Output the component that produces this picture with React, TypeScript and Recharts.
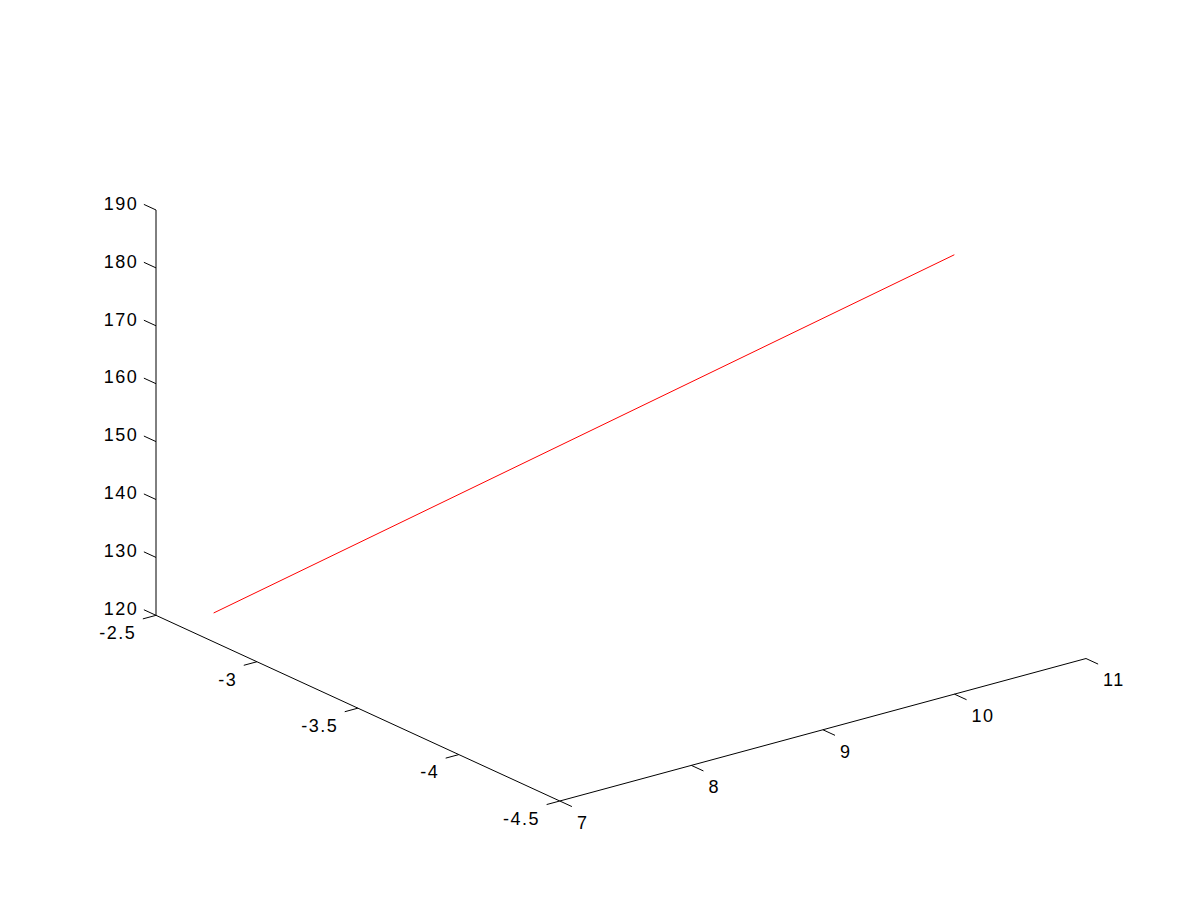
import { ComposedChart, Line, XAxis, YAxis } from "recharts";

// axis limits and ticks of the 3-D box
const xLim = [7, 11];
const yLim = [-4.5, -2.5];
const zLim = [120, 190];
const xTicks = [7, 8, 9, 10, 11];
const yTicks = [-2.5, -3, -3.5, -4, -4.5];
const zTicks = [120, 130, 140, 150, 160, 170, 180, 190];

// the plotted 3-D line
const lineX = [7.3, 10.92];
const lineY = [-2.59, -3.9];
const lineZ = [120, 180.6];

const W = 1200;
const H = 900;
// default axes position, normalized [left bottom width height]
const AX_POS = [0.13, 0.11, 0.775, 0.815];
// default 3-D view
const AZ = (-37.5 * Math.PI) / 180;
const EL = (30 * Math.PI) / 180;
const TICK_LEN = 0.03;
const FONT = '"Liberation Sans", Arial, Helvetica, sans-serif';
const SPACING = 1.5;

const norm = (v: number, lim: number[]) => (v - lim[0]) / (lim[1] - lim[0]);

function project(x: number, y: number, z: number) {
  const a = norm(x, xLim);
  const b = norm(y, yLim);
  const c = norm(z, zLim);
  const u = a * Math.cos(AZ) + b * Math.sin(AZ);
  const depth = -a * Math.sin(AZ) + b * Math.cos(AZ);
  const v = c * Math.cos(EL) + depth * Math.sin(EL);
  return { u, v };
}

// offset a point in normalized box units before projecting
function projectOff(x: number, y: number, z: number, da: number, db: number) {
  return project(
    x + da * (xLim[1] - xLim[0]),
    y + db * (yLim[1] - yLim[0]),
    z
  );
}

// fit the projected box into the axes position (stretch to fill)
const corners = [0, 1].flatMap((i) =>
  [0, 1].flatMap((j) =>
    [0, 1].map((k) => project(xLim[i], yLim[j], zLim[k]))
  )
);
const uMin = Math.min(...corners.map((p) => p.u));
const uMax = Math.max(...corners.map((p) => p.u));
const vMin = Math.min(...corners.map((p) => p.v));
const vMax = Math.max(...corners.map((p) => p.v));
const sx = (AX_POS[2] * W) / (uMax - uMin);
const sy = (AX_POS[3] * H) / (vMax - vMin);
const uDomain = [uMin - (AX_POS[0] * W) / sx, uMax + ((1 - AX_POS[0] - AX_POS[2]) * W) / sx];
const vDomain = [vMin - (AX_POS[1] * H) / sy, vMax + ((1 - AX_POS[1] - AX_POS[3]) * H) / sy];

type Seg = { u: number; v: number }[];
type Lbl = { u: number; v: number; text: string; anchor: string; dx: number; dy: number };

const redLine: Seg = lineX.map((x, i) => project(x, lineY[i], lineZ[i]));

const axisSegs: Seg[] = [
  [project(xLim[0], yLim[1], zLim[0]), project(xLim[0], yLim[1], zLim[1])],
  [project(xLim[0], yLim[1], zLim[0]), project(xLim[0], yLim[0], zLim[0])],
  [project(xLim[0], yLim[0], zLim[0]), project(xLim[1], yLim[0], zLim[0])],
];

const tickSegs: Seg[] = [
  ...zTicks.map((z) => [project(xLim[0], yLim[1], z), projectOff(xLim[0], yLim[1], z, 0, TICK_LEN)]),
  ...yTicks.map((y) => [project(xLim[0], y, zLim[0]), projectOff(xLim[0], y, zLim[0], -0.025, 0)]),
  ...xTicks.map((x) => [project(x, yLim[0], zLim[0]), projectOff(x, yLim[0], zLim[0], 0, -TICK_LEN)]),
];

const labels: Lbl[] = [
  ...zTicks.map((z) => ({
    ...projectOff(xLim[0], yLim[1], z, 0, TICK_LEN),
    text: String(z), anchor: "end", dx: -7 + SPACING, dy: -1,
  })),
  ...yTicks.map((y) => ({
    ...projectOff(xLim[0], y, zLim[0], -0.025, 0),
    text: String(y), anchor: "end", dx: -8 + SPACING, dy: 14,
  })),
  ...xTicks.map((x) => ({
    ...projectOff(x, yLim[0], zLim[0], 0, -TICK_LEN),
    text: String(x), anchor: "start", dx: 5, dy: 16,
  })),
];

const renderLabel = (props: any) => {
  const { cx, cy, payload, index } = props;
  return (
    <text
      key={`lbl-${index}`}
      x={cx + payload.dx}
      y={cy + payload.dy}
      dy="0.35em"
      textAnchor={payload.anchor}
      fontFamily={FONT}
      fontSize={18}
      letterSpacing={SPACING}
      fill="#000"
    >
      {payload.text}
    </text>
  );
};

export default function App() {
  return (
    <div style={{ position: "absolute", left: 0, top: 0, width: W, height: H, background: "#fff" }}>
      <ComposedChart width={W} height={H} margin={{ top: 0, right: 0, bottom: 0, left: 0 }}>
        <XAxis dataKey="u" type="number" domain={uDomain} hide />
        <YAxis type="number" domain={vDomain} hide />
        {axisSegs.concat(tickSegs).map((seg, i) => (
          <Line
            key={`seg-${i}`}
            data={seg}
            dataKey="v"
            stroke="#000"
            strokeWidth={1}
            dot={false}
            activeDot={false}
            isAnimationActive={false}
          />
        ))}
        <Line
          data={redLine}
          dataKey="v"
          stroke="#ff0000"
          strokeWidth={1}
          dot={false}
          activeDot={false}
          isAnimationActive={false}
        />
        <Line
          data={labels}
          dataKey="v"
          stroke="none"
          dot={renderLabel}
          activeDot={false}
          isAnimationActive={false}
        />
      </ComposedChart>
    </div>
  );
}
